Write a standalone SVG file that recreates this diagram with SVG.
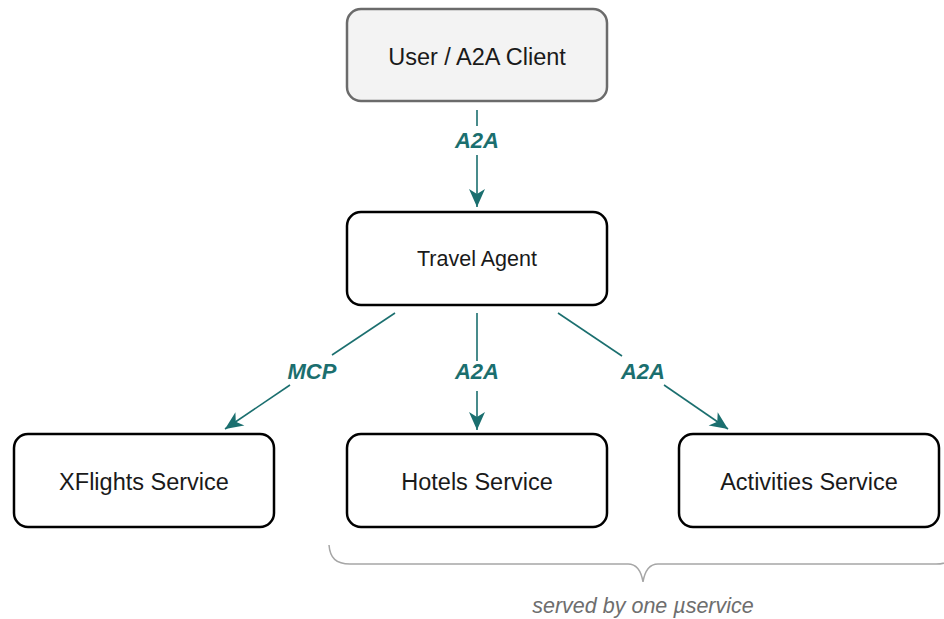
<svg xmlns="http://www.w3.org/2000/svg" width="944" height="619" viewBox="0 0 944 619">
  <style>
    .box { fill: #ffffff; stroke: #000000; stroke-width: 2.5; }
    .client { fill: #f3f3f3; stroke: #6b6b6b; stroke-width: 2.5; }
    .lbl { font-family: "Liberation Sans", Arial, sans-serif; fill: #1a1a1a; text-anchor: middle; }
    .edge { stroke: #1b6f6f; stroke-width: 1.6; fill: none; }
    .elbl { font-family: "Liberation Sans", Arial, sans-serif; font-weight: bold; font-style: italic; font-size: 22px; fill: #1b6f6f; text-anchor: middle; }
    .note { font-family: "Liberation Sans", Arial, sans-serif; font-style: italic; font-size: 21.5px; fill: #6e6e6e; text-anchor: middle; }
  </style>
  <defs>
    <marker id="arr" markerUnits="userSpaceOnUse" markerWidth="19" markerHeight="16" refX="18" refY="8" orient="auto" overflow="visible">
      <path d="M0,0 L18,8 L0,16 L5,8 Z" fill="#1b6f6f"/>
    </marker>
  </defs>

  <g id="connectors">
    <g id="e-client-agent">
      <line class="edge" x1="477" y1="110" x2="477" y2="126"/>
      <line class="edge" x1="477" y1="155" x2="477" y2="207" marker-end="url(#arr)"/>
      <text class="elbl" x="477" y="148">A2A</text>
    </g>
    <g id="e-agent-xflights">
      <line class="edge" x1="395" y1="313" x2="332" y2="355"/>
      <line class="edge" x1="290" y1="385" x2="225" y2="429" marker-end="url(#arr)"/>
      <text class="elbl" x="312" y="379">MCP</text>
    </g>
    <g id="e-agent-hotels">
      <line class="edge" x1="477" y1="313" x2="477" y2="361"/>
      <line class="edge" x1="477" y1="391" x2="477" y2="430" marker-end="url(#arr)"/>
      <text class="elbl" x="477" y="379">A2A</text>
    </g>
    <g id="e-agent-activities">
      <line class="edge" x1="558" y1="313" x2="622" y2="356"/>
      <line class="edge" x1="664" y1="385" x2="728" y2="429" marker-end="url(#arr)"/>
      <text class="elbl" x="643" y="379">A2A</text>
    </g>
  </g>

  <g id="client">
    <rect class="client" x="347" y="9" width="260" height="92" rx="14"/>
    <text class="lbl" x="477" y="65" font-size="23.5">User / A2A Client</text>
  </g>
  <g id="agent">
    <rect class="box" x="347" y="212" width="260" height="93" rx="14"/>
    <text class="lbl" x="477" y="266" font-size="21.5">Travel Agent</text>
  </g>
  <g id="xflights">
    <rect class="box" x="14" y="434" width="260" height="93" rx="14"/>
    <text class="lbl" x="144" y="490" font-size="23.5">XFlights Service</text>
  </g>
  <g id="hotels">
    <rect class="box" x="347" y="434" width="260" height="93" rx="14"/>
    <text class="lbl" x="477" y="490" font-size="23.5">Hotels Service</text>
  </g>
  <g id="activities">
    <rect class="box" x="679" y="434" width="260" height="93" rx="14"/>
    <text class="lbl" x="809" y="490" font-size="23.5">Activities Service</text>
  </g>

  <g id="brace">
    <path d="M329,545 C330,558 336,564 350,564 L628,564 C636,564 641,570 643,582 C645,570 650,564 658,564 L936,564 C950,564 956,558 957,545" fill="none" stroke="#a6a6a6" stroke-width="1.5"/>
    <text class="note" x="643" y="613">served by one µservice</text>
  </g>
</svg>
